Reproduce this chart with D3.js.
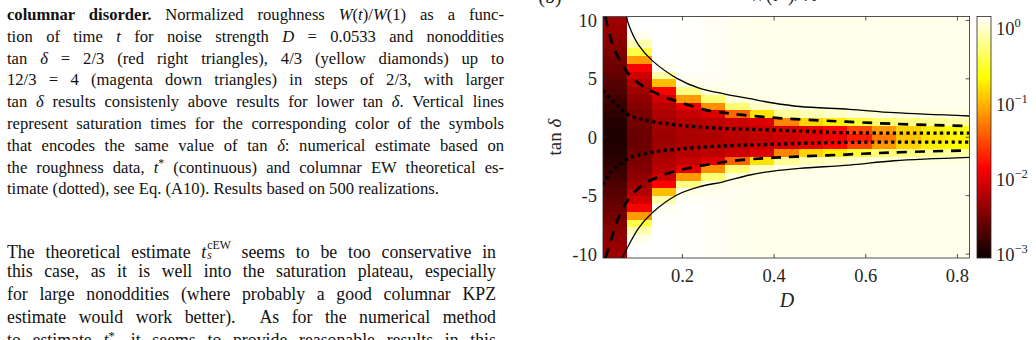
<!DOCTYPE html>
<html><head><meta charset="utf-8">
<script src="https://cdn.jsdelivr.net/npm/d3@7"></script>
<style>
html,body{margin:0;padding:0;background:#fff;width:1036px;height:340px;overflow:hidden;}
#page{position:relative;width:1036px;height:340px;}
.ln{position:absolute;font-family:"Liberation Serif","Times New Roman",serif;color:#111;white-space:nowrap;text-align:justify;text-align-last:justify;line-height:1;}
.ln sup{font-size:0.7em;vertical-align:0.5em;line-height:0;}
.ss{display:inline-block;font-size:0.66em;line-height:0.9;vertical-align:-0.15em;text-align:left;text-align-last:left;margin-left:1px;}
svg text{font-family:"Liberation Serif","Times New Roman",serif;}
</style></head><body><div id="page"></div>
<script>
// ---------- data ----------
const D_values = [0.0533,0.1067,0.16,0.2133,0.2667,0.32,0.3733,0.4267,0.48,0.5333,0.5867,0.64,0.6933,0.7467,0.8];
const tanDelta = [-10,-9.3333,-8.6667,-8,-7.3333,-6.6667,-6,-5.3333,-4.6667,-4,-3.3333,-2.6667,-2,-1.3333,-0.6667,0,
                  0.6667,1.3333,2,2.6667,3.3333,4,4.6667,5.3333,6,6.6667,7.3333,8,8.6667,9.3333,10];
// log10 of W(t*)/sqrt(t), one array per D column, ordered as tanDelta
const col01 = [-2.35,-2.38,-2.42,-2.46,-2.5,-2.55,-2.6,-2.65,-2.7,-2.74,-2.8,-2.85,-2.9,-2.95,-2.97,-2.98,-2.97,-2.95,-2.9,-2.85,-2.8,-2.74,-2.7,-2.65,-2.6,-2.55,-2.5,-2.46,-2.42,-2.38,-2.35];
const col02 = [0.13,0.12,0.07,-0.12,-0.45,-1.15,-1.9,-2.1,-2.25,-2.35,-2.42,-2.48,-2.53,-2.57,-2.6,-2.62,-2.6,-2.57,-2.53,-2.48,-2.42,-2.35,-2.25,-2.1,-1.9,-1.15,-0.45,-0.12,0.07,0.12,0.13];
const col03 = [0.13,0.13,0.13,0.13,0.13,0.12,0.08,-0.15,-0.98,-1.88,-2.12,-2.22,-2.28,-2.32,-2.35,-2.37,-2.35,-2.32,-2.28,-2.22,-2.12,-1.88,-0.98,-0.15,0.08,0.12,0.13,0.13,0.13,0.13,0.13];
const col04 = [0.12,0.12,0.12,0.12,0.12,0.12,0.12,0.1,0.05,-0.25,-1.15,-2.0,-2.16,-2.24,-2.28,-2.3,-2.28,-2.24,-2.16,-2.0,-1.15,-0.25,0.05,0.1,0.12,0.12,0.12,0.12,0.12,0.12,0.12];
const col05 = [0.1,0.1,0.1,0.1,0.1,0.1,0.1,0.1,0.08,0.03,-0.3,-1.2,-2.05,-2.2,-2.25,-2.28,-2.25,-2.2,-2.05,-1.2,-0.3,0.03,0.08,0.1,0.1,0.1,0.1,0.1,0.1,0.1,0.1];
const col06 = [0.08,0.08,0.08,0.08,0.08,0.08,0.08,0.08,0.08,0.06,0.02,-0.3,-1.4,-2.12,-2.2,-2.22,-2.2,-2.12,-1.4,-0.3,0.02,0.06,0.08,0.08,0.08,0.08,0.08,0.08,0.08,0.08,0.08];
const col07 = [0.07,0.07,0.07,0.07,0.07,0.07,0.07,0.07,0.07,0.07,0.05,-0.05,-0.8,-2.05,-2.15,-2.18,-2.15,-2.05,-0.8,-0.05,0.05,0.07,0.07,0.07,0.07,0.07,0.07,0.07,0.07,0.07,0.07];
const col08 = [0.07,0.07,0.07,0.07,0.07,0.07,0.07,0.07,0.07,0.07,0.07,0.03,-0.2,-1.25,-2.08,-2.12,-2.08,-1.25,-0.2,0.03,0.07,0.07,0.07,0.07,0.07,0.07,0.07,0.07,0.07,0.07,0.07];
const col09 = [0.07,0.07,0.07,0.07,0.07,0.07,0.07,0.07,0.07,0.07,0.07,0.05,-0.1,-0.88,-2.0,-2.05,-2.0,-0.88,-0.1,0.05,0.07,0.07,0.07,0.07,0.07,0.07,0.07,0.07,0.07,0.07,0.07];
const col10 = [0.07,0.07,0.07,0.07,0.07,0.07,0.07,0.07,0.07,0.07,0.07,0.06,-0.05,-0.75,-1.85,-1.95,-1.85,-0.75,-0.05,0.06,0.07,0.07,0.07,0.07,0.07,0.07,0.07,0.07,0.07,0.07,0.07];
const col11 = [0.07,0.07,0.07,0.07,0.07,0.07,0.07,0.07,0.07,0.07,0.07,0.06,0.0,-0.5,-1.55,-1.75,-1.55,-0.5,0.0,0.06,0.07,0.07,0.07,0.07,0.07,0.07,0.07,0.07,0.07,0.07,0.07];
const col12 = [0.07,0.07,0.07,0.07,0.07,0.07,0.07,0.07,0.07,0.07,0.07,0.07,0.02,-0.32,-1.15,-1.3,-1.15,-0.32,0.02,0.07,0.07,0.07,0.07,0.07,0.07,0.07,0.07,0.07,0.07,0.07,0.07];
const col13 = [0.07,0.07,0.07,0.07,0.07,0.07,0.07,0.07,0.07,0.07,0.07,0.07,0.03,-0.25,-0.88,-0.95,-0.88,-0.25,0.03,0.07,0.07,0.07,0.07,0.07,0.07,0.07,0.07,0.07,0.07,0.07,0.07];
const col14 = [0.07,0.07,0.07,0.07,0.07,0.07,0.07,0.07,0.07,0.07,0.07,0.07,0.04,-0.2,-0.75,-0.8,-0.75,-0.2,0.04,0.07,0.07,0.07,0.07,0.07,0.07,0.07,0.07,0.07,0.07,0.07,0.07];
const col15 = [0.07,0.07,0.07,0.07,0.07,0.07,0.07,0.07,0.07,0.07,0.07,0.07,0.04,-0.15,-0.66,-0.72,-0.66,-0.15,0.04,0.07,0.07,0.07,0.07,0.07,0.07,0.07,0.07,0.07,0.07,0.07,0.07];
const logW = [col01,col02,col03,col04,col05,col06,col07,col08,col09,col10,col11,col12,col13,col14,col15];

// curves (D, tan delta)
const solidUpD   = [0.078,0.083,0.104,0.133,0.188,0.238,0.293,0.347,0.398,0.456,0.564,0.662,0.826];
const solidUpT   = [10.33,9.6,7.9,6.6,5.04,4.18,3.7,3.3,2.93,2.63,2.39,2.1,1.82];
const solidLoD   = [0.068,0.083,0.104,0.133,0.188,0.238,0.289,0.347,0.398,0.456,0.564,0.662,0.826];
const solidLoT   = [-10.36,-9.22,-7.79,-6.5,-4.94,-4.23,-3.81,-3.23,-2.89,-2.66,-2.38,-2.01,-1.72];
const dashUpD    = [0.032,0.039,0.05,0.068,0.083,0.112,0.155,0.206,0.257,0.293,0.325,0.376,0.427,0.5,0.557,0.66,0.826];
const dashUpT    = [10.33,9.1,7.68,6.26,5.41,4.41,3.56,2.85,2.28,2.08,1.93,1.74,1.6,1.44,1.33,1.15,0.95];
const dashLoD    = [0.032,0.043,0.054,0.068,0.083,0.112,0.155,0.206,0.257,0.303,0.376,0.449,0.557,0.66,0.826];
const dashLoT    = [-10.33,-8.96,-7.53,-6.25,-5.26,-4.12,-3.27,-2.7,-2.33,-2.05,-1.8,-1.66,-1.48,-1.3,-1.12];
const dotUpD     = [0.0267,0.039,0.061,0.083,0.119,0.191,0.286,0.398,0.557,0.826];
const dotUpT     = [4.04,3.46,2.61,1.9,1.47,1.04,0.76,0.62,0.39,0.35];
const dotLoD     = [0.0267,0.039,0.061,0.083,0.119,0.191,0.286,0.398,0.557,0.826];
const dotLoT     = [-4.09,-3.23,-2.38,-1.8,-1.38,-1.01,-0.75,-0.6,-0.44,-0.42];

const xTicks = [0.2,0.4,0.6,0.8];
const yTicks = [-10,-5,0,5,10];
const cbTicks = [1e-3,1e-2,1e-1,1];
const cbExp = ["\u22123","\u22122","\u22121","0"];

const captionLines = [
 '<b>columnar disorder.</b> Normalized roughness <i>W</i>(<i>t</i>)/<i>W</i>(1) as a func-',
 'tion of time <i>t</i> for noise strength <i>D</i> = 0.0533 and nonoddities',
 'tan <i>δ</i> = 2/3 (red right triangles), 4/3 (yellow diamonds) up to',
 '12/3 = 4 (magenta down triangles) in steps of 2/3, with larger',
 'tan <i>δ</i> results consistenly above results for lower tan <i>δ</i>. Vertical lines',
 'represent saturation times for the corresponding color of the symbols',
 'that encodes the same value of tan <i>δ</i>: numerical estimate based on',
 'the roughness data, <i>t</i><sup>*</sup> (continuous) and columnar EW theoretical es-',
 'timate (dotted), see Eq. (A10). Results based on 500 realizations.'
];
const bodyLines = [
 'The theoretical estimate <i>t</i><span class="ss">cEW<br><i>s</i></span> seems to be too conservative in',
 'this case, as it is well into the saturation plateau, especially',
 'for large nonoddities (where probably a good columnar KPZ',
 'estimate would work better).&nbsp; As for the numerical method',
 'to estimate <i>t</i><sup>*</sup>, it seems to provide reasonable results in this'
];

// ---------- text column ----------
const page = d3.select("#page");
const capFs = 16.6, bodyFs = 17.8;
captionLines.forEach((h,i)=>{
  const base = 21 + 21.8*i;
  page.append("div").attr("class","ln").html(h)
    .style("left","7px").style("width","497px")
    .style("font-size",capFs+"px")
    .style("top",(base-0.8375*capFs)+"px")
    .style("text-align-last", i===captionLines.length-1 ? "left" : "justify");
});
bodyLines.forEach((h,i)=>{
  const base = 255.5 + 22.9*i;
  page.append("div").attr("class","ln").html(h)
    .style("left","7px").style("width","489px")
    .style("font-size",bodyFs+"px")
    .style("top",(base-0.8375*bodyFs)+"px");
});

// ---------- chart ----------
const svg = page.append("svg").attr("width",1036).attr("height",340)
  .style("position","absolute").style("left","0px").style("top","0px");
const L=603, R=969.6, T=16.5, B=258;
const dStep = 0.05333, tStep = 2/3;
const x = d3.scaleLinear().domain([D_values[0]-dStep/2, D_values[14]+dStep/2]).range([L,R]);
const y = d3.scaleLinear().domain([-10-tStep/2, 10+tStep/2]).range([B,T]);
const hot = d3.scaleLinear().domain([0,0.375,0.75,1]).range(["#0a0000","#ff0000","#ffff00","#ffffff"]).clamp(true);
const cLo=-3.08, cHi=0.13;
const color = d3.scaleSequential(hot).domain([cLo,cHi]).clamp(true);

svg.append("defs").append("clipPath").attr("id","pc").append("rect")
  .attr("x",L).attr("y",T).attr("width",R-L).attr("height",B-T);

const cells = [];
logW.forEach((col,i)=>col.forEach((v,j)=>cells.push({D:D_values[i],t:tanDelta[j],v})));
svg.append("g").attr("clip-path","url(#pc)").selectAll("rect").data(cells).join("rect")
  .attr("x",d=>x(d.D-dStep/2)).attr("width",d=>x(d.D+dStep/2)-x(d.D-dStep/2)+0.5)
  .attr("y",d=>y(d.t+tStep/2)).attr("height",d=>y(d.t-tStep/2)-y(d.t+tStep/2)+0.5)
  .attr("fill",d=>color(d.v)).attr("shape-rendering","crispEdges");

const line = d3.line().x(d=>x(d[0])).y(d=>y(d[1])).curve(d3.curveCatmullRom.alpha(0.5));
const cg = svg.append("g").attr("clip-path","url(#pc)").attr("fill","none").attr("stroke","#000");
[[solidUpD,solidUpT],[solidLoD,solidLoT]].forEach(([a,b])=>
  cg.append("path").attr("d",line(d3.zip(a,b))).attr("stroke-width",1.3));
[[dashUpD,dashUpT],[dashLoD,dashLoT]].forEach(([a,b])=>
  cg.append("path").attr("d",line(d3.zip(a,b))).attr("stroke-width",2.7).attr("stroke-dasharray","10,8"));
[[dotUpD,dotUpT],[dotLoD,dotLoT]].forEach(([a,b])=>
  cg.append("path").attr("d",line(d3.zip(a,b))).attr("stroke-width",3.3).attr("stroke-dasharray","3.3,3.4"));

// axes box & ticks
const ax = "#262626";
svg.append("rect").attr("x",L).attr("y",T).attr("width",R-L).attr("height",B-T)
  .attr("fill","none").attr("stroke",ax).attr("stroke-width",0.8);
const tk = svg.append("g").attr("stroke",ax).attr("stroke-width",0.8);
xTicks.forEach(v=>{
  tk.append("line").attr("x1",x(v)).attr("x2",x(v)).attr("y1",B).attr("y2",B-4);
  tk.append("line").attr("x1",x(v)).attr("x2",x(v)).attr("y1",T).attr("y2",T+4);
});
yTicks.forEach(v=>{
  tk.append("line").attr("x1",L).attr("x2",L+4).attr("y1",y(v)).attr("y2",y(v));
  tk.append("line").attr("x1",R).attr("x2",R-4).attr("y1",y(v)).attr("y2",y(v));
});
const lab = svg.append("g").attr("fill","#262626").attr("font-size",18.5);
xTicks.forEach(v=>lab.append("text").attr("x",x(v)).attr("y",282).attr("text-anchor","middle").text(v.toFixed(1)));
yTicks.forEach(v=>lab.append("text").attr("x",597).attr("y",y(v)+6.5).attr("text-anchor","end").text(v<0?"-"+Math.abs(v):String(v)));
svg.append("text").attr("x",787).attr("y",307).attr("text-anchor","middle").attr("font-size",20)
  .attr("font-style","italic").attr("fill","#262626").text("D");
svg.append("text").attr("transform","translate(561,137) rotate(-90)").attr("text-anchor","middle")
  .attr("font-size",19).attr("fill","#262626").html('tan <tspan font-style="italic">δ</tspan>');

// title & panel label (cut by top edge)
svg.append("text").attr("x",550).attr("y",2.5).attr("text-anchor","middle").attr("font-size",20).attr("fill","#222").text("(b)");
svg.append("text").attr("x",783).attr("y",1).attr("text-anchor","middle").attr("font-size",20).attr("fill","#222")
  .html('<tspan font-style="italic">W</tspan>(<tspan font-style="italic">t</tspan>*)/√<tspan font-style="italic">t</tspan>');

// colorbar
const cbL=977, cbR=991;
const cy = d3.scaleLinear().domain([cLo,cHi]).range([B,T]);
const steps = d3.range(0,242);
svg.append("g").selectAll("rect").data(steps).join("rect")
  .attr("x",cbL).attr("width",cbR-cbL)
  .attr("y",i=>B-(i+1)).attr("height",1.2)
  .attr("fill",i=>color(cy.invert(B-i-0.5))).attr("shape-rendering","crispEdges");
svg.append("rect").attr("x",cbL).attr("y",T).attr("width",cbR-cbL).attr("height",B-T)
  .attr("fill","none").attr("stroke",ax).attr("stroke-width",0.8);
const cbScale = d3.scaleLog().domain([Math.pow(10,cLo),Math.pow(10,cHi)]).range([B,T]);
cbTicks.forEach((v,i)=>{
  const yy = cbScale(v);
  tk.append("line").attr("x1",cbR).attr("x2",cbR-3).attr("y1",yy).attr("y2",yy);
  const t = lab.append("text").attr("x",996).attr("y",yy+9);
  t.append("tspan").text("10");
  t.append("tspan").attr("dy",-8).attr("font-size",12.5).text(cbExp[i]);
});
</script></body></html>
